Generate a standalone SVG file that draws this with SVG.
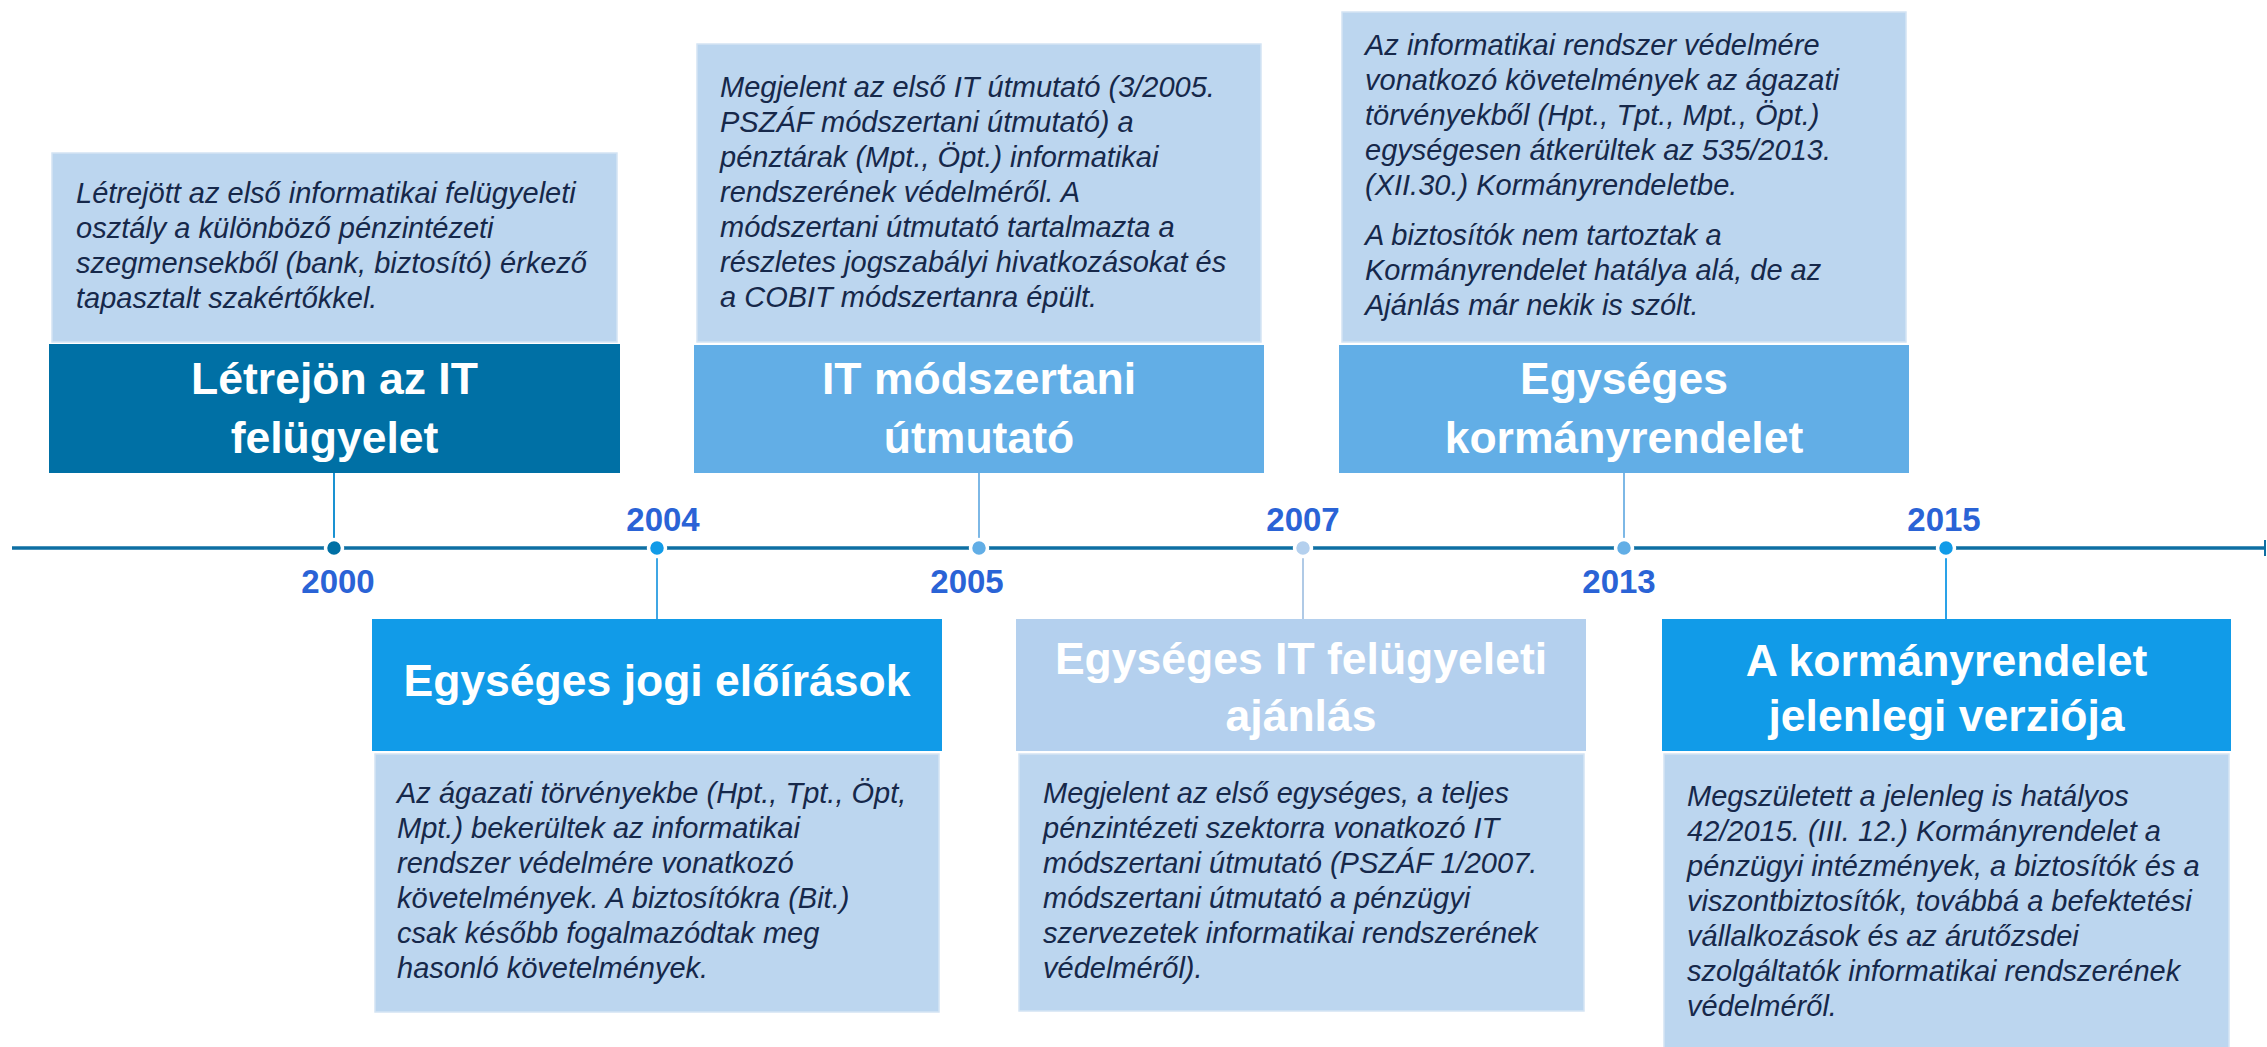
<svg xmlns="http://www.w3.org/2000/svg" width="2267" height="1047" viewBox="0 0 2267 1047">
<style>
.desc{fill:#BCD6EF;stroke:#D4E4F4;stroke-width:1.5}
.dt{font-family:"Liberation Sans",Arial,sans-serif;font-style:italic;font-size:29px;fill:#16284A}
.tt{font-family:"Liberation Sans",Arial,sans-serif;font-weight:bold;font-size:44.5px;fill:#FFFFFF;text-anchor:middle}
.yr{font-family:"Liberation Sans",Arial,sans-serif;font-weight:bold;font-size:33px;fill:#2A63D6;text-anchor:middle}
.c1{fill:#0070A5}.c2{fill:#119BE8}.c3{fill:#62AEE6}.c4{fill:#B4D0EE}
.dot{stroke:#FFFFFF;stroke-width:3.5}
.conn{stroke-width:2;fill:none}
</style>
<rect width="2267" height="1047" fill="#FFFFFF"/>

<g id="timeline">
<line x1="12" y1="548" x2="2265" y2="548" stroke="#0E6FA3" stroke-width="3.5"/>
<line x1="2265" y1="540" x2="2265" y2="556" stroke="#0E6FA3" stroke-width="2"/>
</g>

<g id="connectors">
<line class="conn" x1="334" y1="473" x2="334" y2="548" stroke="#1A92D2"/>
<line class="conn" x1="657" y1="548" x2="657" y2="619" stroke="#3FA6E4"/>
<line class="conn" x1="979" y1="473" x2="979" y2="548" stroke="#7DB8E6"/>
<line class="conn" x1="1303" y1="548" x2="1303" y2="619" stroke="#B0CAE6"/>
<line class="conn" x1="1624" y1="473" x2="1624" y2="548" stroke="#7DB8E6"/>
<line class="conn" x1="1946" y1="548" x2="1946" y2="619" stroke="#2AA2E8"/>
</g>

<g id="year-2000">
<circle class="dot c1" cx="334" cy="548" r="8.5"/>
<text class="yr" x="338" y="593">2000</text>
</g>
<g id="year-2004">
<circle class="dot c2" cx="657" cy="548" r="8.5"/>
<text class="yr" x="663" y="531">2004</text>
</g>
<g id="year-2005">
<circle class="dot c3" cx="979" cy="548" r="8.5"/>
<text class="yr" x="967" y="593">2005</text>
</g>
<g id="year-2007">
<circle class="dot c4" cx="1303" cy="548" r="8.5"/>
<text class="yr" x="1303" y="531">2007</text>
</g>
<g id="year-2013">
<circle class="dot c3" cx="1624" cy="548" r="8.5"/>
<text class="yr" x="1619" y="593">2013</text>
</g>
<g id="year-2015">
<circle class="dot c2" cx="1946" cy="548" r="8.5"/>
<text class="yr" x="1944" y="531">2015</text>
</g>

<g id="node-2000">
<rect class="desc" x="52" y="153" width="565" height="189"/>
<text class="dt" x="76" y="203">Létrejött az első informatikai felügyeleti</text>
<text class="dt" x="76" y="238">osztály a különböző pénzintézeti</text>
<text class="dt" x="76" y="273">szegmensekből (bank, biztosító) érkező</text>
<text class="dt" x="76" y="308">tapasztalt szakértőkkel.</text>
<rect class="c1" x="49" y="344" width="571" height="129"/>
<text class="tt" x="334.5" y="394">Létrejön az IT</text>
<text class="tt" x="334.5" y="453">felügyelet</text>
</g>

<g id="node-2005">
<rect class="desc" x="697" y="44" width="564" height="298"/>
<text class="dt" x="720" y="97">Megjelent az első IT útmutató (3/2005.</text>
<text class="dt" x="720" y="132">PSZÁF módszertani útmutató) a</text>
<text class="dt" x="720" y="167">pénztárak (Mpt., Öpt.) informatikai</text>
<text class="dt" x="720" y="202">rendszerének védelméről. A</text>
<text class="dt" x="720" y="237">módszertani útmutató tartalmazta a</text>
<text class="dt" x="720" y="272">részletes jogszabályi hivatkozásokat és</text>
<text class="dt" x="720" y="307">a COBIT módszertanra épült.</text>
<rect class="c3" x="694" y="345" width="570" height="128"/>
<text class="tt" x="979" y="394">IT módszertani</text>
<text class="tt" x="979" y="453">útmutató</text>
</g>

<g id="node-2013">
<rect class="desc" x="1342" y="12" width="564" height="330"/>
<text class="dt" x="1365" y="55">Az informatikai rendszer védelmére</text>
<text class="dt" x="1365" y="90">vonatkozó követelmények az ágazati</text>
<text class="dt" x="1365" y="125">törvényekből (Hpt., Tpt., Mpt., Öpt.)</text>
<text class="dt" x="1365" y="160">egységesen átkerültek az 535/2013.</text>
<text class="dt" x="1365" y="195">(XII.30.) Kormányrendeletbe.</text>
<text class="dt" x="1365" y="245">A biztosítók nem tartoztak a</text>
<text class="dt" x="1365" y="280">Kormányrendelet hatálya alá, de az</text>
<text class="dt" x="1365" y="315">Ajánlás már nekik is szólt.</text>
<rect class="c3" x="1339" y="345" width="570" height="128"/>
<text class="tt" x="1624" y="394">Egységes</text>
<text class="tt" x="1624" y="453">kormányrendelet</text>
</g>

<g id="node-2004">
<rect class="c2" x="372" y="619" width="570" height="132"/>
<text class="tt" x="657" y="696">Egységes jogi előírások</text>
<rect class="desc" x="375" y="754" width="564" height="258"/>
<text class="dt" x="397" y="803">Az ágazati törvényekbe (Hpt., Tpt., Öpt,</text>
<text class="dt" x="397" y="838">Mpt.) bekerültek az informatikai</text>
<text class="dt" x="397" y="873">rendszer védelmére vonatkozó</text>
<text class="dt" x="397" y="908">követelmények. A biztosítókra (Bit.)</text>
<text class="dt" x="397" y="943">csak később fogalmazódtak meg</text>
<text class="dt" x="397" y="978">hasonló követelmények.</text>
</g>

<g id="node-2007">
<rect class="c4" x="1016" y="619" width="570" height="132"/>
<text class="tt" x="1301" y="674">Egységes IT felügyeleti</text>
<text class="tt" x="1301" y="731">ajánlás</text>
<rect class="desc" x="1019" y="754" width="565" height="257"/>
<text class="dt" x="1043" y="803">Megjelent az első egységes, a teljes</text>
<text class="dt" x="1043" y="838">pénzintézeti szektorra vonatkozó IT</text>
<text class="dt" x="1043" y="873">módszertani útmutató (PSZÁF 1/2007.</text>
<text class="dt" x="1043" y="908">módszertani útmutató a pénzügyi</text>
<text class="dt" x="1043" y="943">szervezetek informatikai rendszerének</text>
<text class="dt" x="1043" y="978">védelméről).</text>
</g>

<g id="node-2015">
<rect class="c2" x="1662" y="619" width="569" height="132"/>
<text class="tt" x="1946.5" y="676">A kormányrendelet</text>
<text class="tt" x="1946.5" y="731">jelenlegi verziója</text>
<rect class="desc" x="1664" y="754" width="565" height="300"/>
<text class="dt" x="1687" y="806">Megszületett a jelenleg is hatályos</text>
<text class="dt" x="1687" y="841">42/2015. (III. 12.) Kormányrendelet a</text>
<text class="dt" x="1687" y="876">pénzügyi intézmények, a biztosítók és a</text>
<text class="dt" x="1687" y="911">viszontbiztosítók, továbbá a befektetési</text>
<text class="dt" x="1687" y="946">vállalkozások és az árutőzsdei</text>
<text class="dt" x="1687" y="981">szolgáltatók informatikai rendszerének</text>
<text class="dt" x="1687" y="1016">védelméről.</text>
</g>
</svg>
